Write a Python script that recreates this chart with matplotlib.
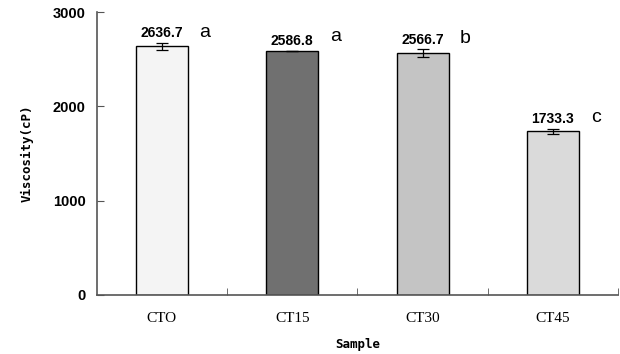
import numpy as np
import matplotlib.pyplot as plt

samples = ["CTO", "CT15", "CT30", "CT45"]
viscosity = [2636.7, 2586.8, 2566.7, 1733.3]
errors = [40, 5, 40, 30]
letters = ["a", "a", "b", "c"]
colors = ["#f4f4f4", "#707070", "#c4c4c4", "#dadada"]

fig = plt.figure(figsize=(6.2, 3.54), dpi=100)
ax = fig.add_axes([0.156, 0.167, 0.841, 0.799])

x = np.arange(len(samples))
width = 0.4
ax.bar(x, viscosity, width, color=colors, edgecolor="black", linewidth=1.0,
       yerr=errors, capsize=4, error_kw=dict(elinewidth=0.9, capthick=0.9, ecolor="black"))

for xi, v, e, l in zip(x, viscosity, errors, letters):
    ax.text(xi, v + e + 25, f"{v:.1f}", ha="center", va="bottom",
            fontsize=10, family="Liberation Sans", fontweight="bold")
    ax.text(xi + width / 2 + 0.13, v + 60, l, ha="center", va="bottom",
            fontsize=14, family="Liberation Sans")

ax.set_xlim(-0.5, 3.5)
ax.set_ylim(0, 3000)
ax.set_yticks([0, 1000, 2000, 3000])
ax.set_xticks(x)
ax.set_xticklabels(samples, family="Liberation Serif", fontsize=11)
ax.set_xticks(np.arange(0.5, 4, 1), minor=True)
ax.tick_params(axis="x", which="major", length=0, pad=12)
ax.tick_params(axis="x", which="minor", direction="in", length=5, color="#555555")
ax.tick_params(axis="y", direction="in", length=5, pad=8, color="#555555")
for lab in ax.get_yticklabels():
    lab.set_fontsize(10.5)
    lab.set_family("Liberation Sans")
    lab.set_fontweight("bold")

ax.spines["right"].set_visible(False)
ax.spines["top"].set_visible(False)
ax.spines["left"].set_color("#555555")
ax.spines["bottom"].set_color("#555555")
ax.spines["left"].set_linewidth(1.2)
ax.spines["bottom"].set_linewidth(1.2)

ax.set_xlabel("Sample", family="DejaVu Sans Mono", fontweight="bold", fontsize=9, labelpad=10)
ax.set_ylabel("Viscosity(cP)", family="DejaVu Sans Mono", fontweight="bold", fontsize=9, labelpad=14)

plt.savefig("out.png", dpi=100)
